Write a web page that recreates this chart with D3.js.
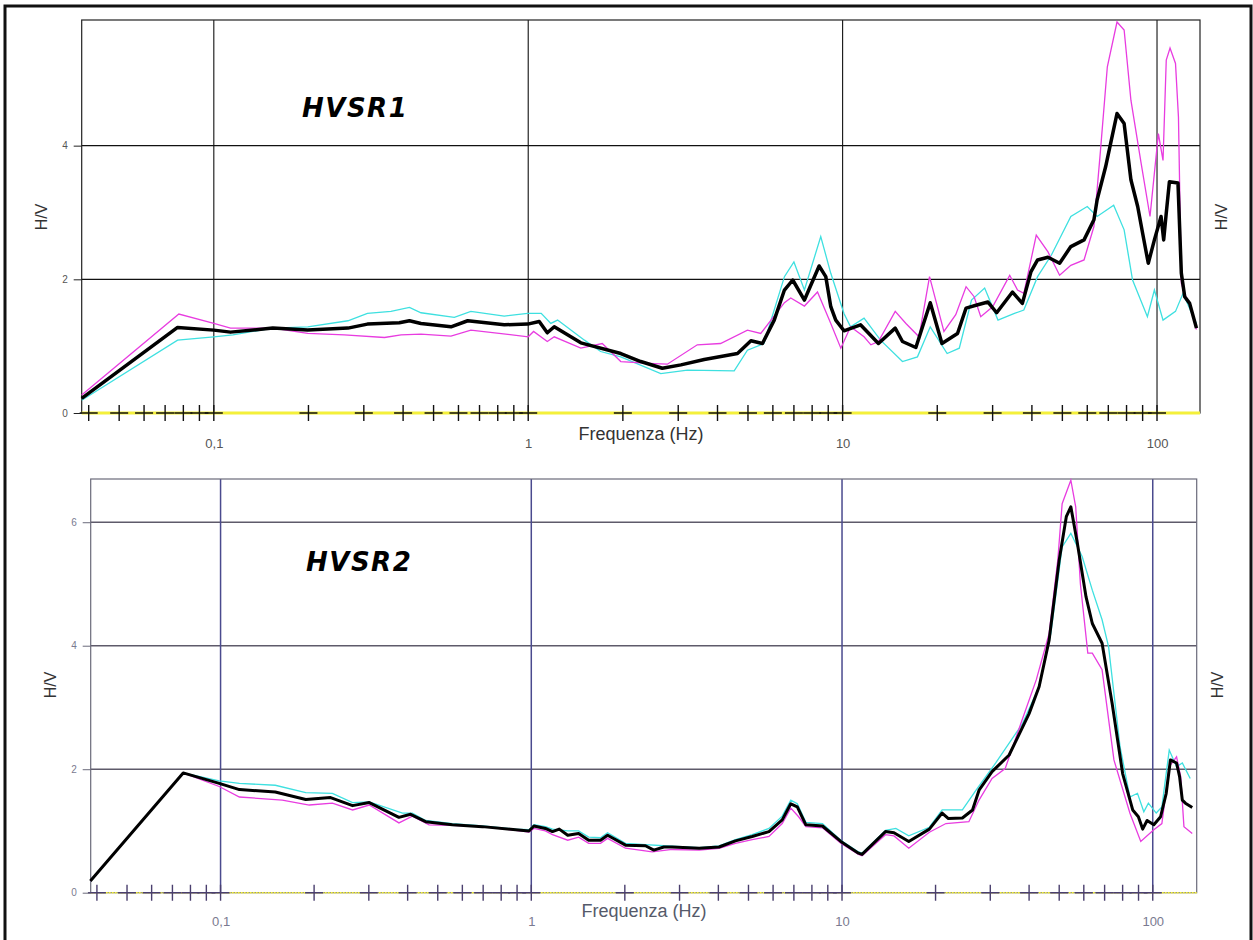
<!DOCTYPE html>
<html>
<head>
<meta charset="utf-8">
<script src="https://cdn.jsdelivr.net/npm/d3@7"></script>
<style>
  body { margin: 0; background: #fff; }
  text { font-family: "Liberation Sans", Arial, sans-serif; }
</style>
</head>
<body>
<script>
// HVSR curves: [frequency Hz, H/V]
const hvsr1Mean = [[0.038,0.22],[0.0767,1.28],[0.1,1.24],[0.113,1.21],[0.154,1.27],[0.199,1.24],[0.267,1.27],[0.308,1.33],[0.389,1.35],[0.419,1.38],[0.456,1.34],[0.568,1.29],[0.642,1.38],[0.839,1.32],[0.996,1.33],[1.084,1.37],[1.15,1.20],[1.21,1.29],[1.47,1.05],[1.97,0.89],[2.28,0.77],[2.67,0.67],[3.06,0.72],[3.63,0.80],[4.63,0.89],[5.11,1.08],[5.56,1.04],[6.06,1.39],[6.53,1.84],[6.94,1.99],[7.56,1.69],[8.42,2.20],[8.84,2.04],[9.17,1.59],[9.51,1.39],[10.1,1.23],[11.4,1.32],[13.0,1.04],[14.7,1.27],[15.5,1.07],[17.1,0.98],[19.0,1.65],[20.7,1.04],[23.2,1.19],[24.7,1.57],[26.9,1.62],[29.0,1.66],[30.9,1.50],[34.7,1.81],[37.3,1.64],[39.7,2.11],[41.7,2.29],[45.0,2.33],[49.0,2.24],[53.2,2.49],[58.6,2.59],[63.0,2.89],[64.5,3.19],[68.6,3.68],[74.6,4.48],[78.6,4.33],[82.6,3.49],[86.8,3.09],[90.0,2.69],[93.8,2.24],[98.1,2.59],[103,2.94],[105,2.59],[107,2.99],[109.5,3.46],[116.6,3.44],[119.5,2.09],[122.5,1.74],[127,1.64],[133.5,1.27]];
const hvsr1Magenta = [[0.038,0.27],[0.0774,1.48],[0.1,1.34],[0.113,1.27],[0.154,1.27],[0.199,1.19],[0.26,1.17],[0.349,1.13],[0.394,1.17],[0.456,1.18],[0.568,1.15],[0.657,1.24],[1.0,1.14],[1.04,1.22],[1.15,1.07],[1.21,1.14],[1.47,0.97],[1.72,1.04],[1.97,0.77],[2.52,0.74],[2.77,0.73],[3.45,1.02],[4.09,1.04],[4.98,1.24],[5.49,1.19],[6.53,1.65],[6.84,1.72],[7.56,1.60],[8.32,1.81],[9.17,1.34],[9.87,0.97],[10.6,1.29],[11.7,1.14],[12.3,1.02],[13.0,1.07],[14.7,1.52],[15.9,1.34],[17.5,1.14],[18.9,2.04],[21.0,1.22],[22.9,1.47],[24.7,1.89],[26.2,1.74],[27.5,1.44],[30.0,1.59],[34.0,2.06],[36.0,1.84],[37.7,1.79],[41.3,2.66],[45,2.41],[49,2.06],[53.2,2.21],[58.6,2.29],[63,2.79],[66.1,3.93],[69.5,5.18],[74.6,5.85],[78.6,5.73],[82.6,4.68],[89,3.74],[95,2.94],[101,4.18],[104.5,3.78],[107,5.28],[110,5.46],[114.5,5.23],[117,4.43],[119.5,1.94],[122.5,1.78],[127,1.62],[133.5,1.25]];
const hvsr1Cyan = [[0.038,0.19],[0.0767,1.09],[0.1,1.14],[0.115,1.17],[0.154,1.27],[0.199,1.29],[0.267,1.38],[0.308,1.49],[0.366,1.52],[0.419,1.58],[0.456,1.50],[0.582,1.43],[0.657,1.52],[0.839,1.45],[0.996,1.49],[1.10,1.49],[1.18,1.34],[1.24,1.39],[1.51,1.09],[1.70,0.92],[1.97,0.84],[2.64,0.59],[3.21,0.64],[4.52,0.63],[4.98,0.94],[5.62,1.04],[6.53,2.04],[7.0,2.26],[7.56,1.84],[8.52,2.64],[9.17,2.09],[10.1,1.49],[10.6,1.29],[11.7,1.42],[13.2,1.09],[15.5,0.77],[17.3,0.84],[19.0,1.29],[21.5,0.89],[23.5,0.97],[25.7,1.69],[28.3,1.87],[31.2,1.39],[35.2,1.49],[37.7,1.54],[41.7,2.04],[46.1,2.36],[53.2,2.94],[60,3.09],[64.5,2.94],[72.8,3.11],[78.6,2.74],[83.6,1.99],[93.2,1.44],[98.1,1.84],[104.5,1.39],[114.5,1.52],[121,1.79],[129,1.49],[133.5,1.34]];

const hvsr2Mean = [[0.0381,0.19],[0.0758,1.94],[0.099,1.77],[0.115,1.67],[0.15,1.63],[0.188,1.51],[0.226,1.54],[0.266,1.41],[0.301,1.46],[0.375,1.22],[0.409,1.27],[0.457,1.15],[0.557,1.10],[0.696,1.07],[0.891,1.02],[0.983,1.00],[1.02,1.08],[1.11,1.04],[1.17,0.99],[1.23,1.03],[1.31,0.93],[1.42,0.96],[1.53,0.85],[1.67,0.85],[1.76,0.93],[2.01,0.77],[2.33,0.76],[2.48,0.69],[2.67,0.74],[2.84,0.74],[3.47,0.72],[4.02,0.74],[4.54,0.84],[5.14,0.91],[5.82,0.99],[6.42,1.18],[6.84,1.44],[7.18,1.39],[7.65,1.10],[8.65,1.08],[9.91,0.83],[11.3,0.64],[11.6,0.62],[13.8,0.99],[14.7,0.97],[16.4,0.83],[19.1,1.03],[21.0,1.29],[22.0,1.20],[24.4,1.21],[26.3,1.34],[27.6,1.66],[30.4,1.96],[34.5,2.23],[40.0,2.90],[43.1,3.34],[46.4,4.09],[50.0,5.39],[52.7,6.09],[54.5,6.25],[57.2,5.66],[61.0,4.79],[63.9,4.36],[68.7,4.04],[74.0,3.07],[80.0,1.93],[86.2,1.34],[89.9,1.23],[92.8,1.03],[95.9,1.17],[100.8,1.10],[106,1.23],[110.5,1.61],[114,2.15],[119.3,2.10],[122,1.88],[124.5,1.50],[127.4,1.45],[134,1.38]];
const hvsr2Magenta = [[0.0381,0.19],[0.0758,1.94],[0.099,1.72],[0.115,1.55],[0.158,1.50],[0.193,1.42],[0.229,1.45],[0.266,1.34],[0.301,1.42],[0.375,1.13],[0.414,1.24],[0.469,1.10],[0.557,1.09],[0.696,1.07],[0.891,1.01],[0.983,0.98],[1.02,1.04],[1.11,1.00],[1.17,0.94],[1.31,0.85],[1.42,0.90],[1.53,0.80],[1.67,0.80],[1.76,0.88],[2.01,0.72],[2.45,0.66],[2.84,0.70],[3.47,0.69],[4.02,0.72],[4.54,0.80],[5.14,0.86],[5.82,0.91],[6.42,1.12],[6.84,1.37],[7.25,1.23],[7.65,1.07],[8.65,1.05],[9.91,0.80],[11.3,0.62],[11.6,0.60],[13.8,0.94],[14.7,0.92],[16.4,0.72],[19.1,0.98],[21.6,1.12],[25.6,1.15],[27.6,1.50],[30.4,1.85],[33.5,2.01],[38,2.80],[42.2,3.45],[46.4,4.20],[49.5,5.40],[51.1,6.30],[54.5,6.68],[56.5,6.25],[58.5,5.00],[61.8,3.88],[63.9,3.88],[68.7,3.61],[75.0,2.15],[84.4,1.29],[91.5,0.83],[100.8,1.02],[107,1.12],[113,2.04],[119.3,2.20],[123,1.88],[126,1.07],[134,0.96]];
const hvsr2Cyan = [[0.0381,0.19],[0.0758,1.94],[0.099,1.81],[0.115,1.77],[0.15,1.74],[0.188,1.62],[0.229,1.61],[0.266,1.46],[0.301,1.47],[0.385,1.29],[0.414,1.29],[0.457,1.17],[0.557,1.12],[0.696,1.08],[0.891,1.03],[0.983,1.02],[1.02,1.10],[1.11,1.07],[1.17,1.03],[1.31,1.00],[1.42,1.00],[1.53,0.90],[1.67,0.89],[1.76,0.97],[2.01,0.80],[2.33,0.78],[2.67,0.76],[3.47,0.73],[4.02,0.76],[4.54,0.86],[5.14,0.94],[5.82,1.04],[6.42,1.24],[6.84,1.50],[7.18,1.44],[7.65,1.14],[8.65,1.12],[9.91,0.85],[11.3,0.66],[11.6,0.64],[13.8,1.01],[14.9,1.04],[16.4,0.92],[19.1,1.06],[21,1.34],[24.4,1.34],[27,1.66],[31.2,2.10],[38.1,2.74],[43.1,3.34],[47,4.20],[51.1,5.60],[54.5,5.82],[59.3,5.44],[63.9,4.90],[68.7,4.42],[72.1,3.98],[78.5,2.36],[84.4,1.55],[89.3,1.61],[93.6,1.31],[96.8,1.45],[102.6,1.29],[107,1.39],[113,2.31],[119.3,2.04],[124.5,2.10],[132,1.85]];

const xMajor = [0.1, 1, 10, 100];
const hvsr1YTicks = [0, 2, 4];
const hvsr2YTicks = [0, 2, 4, 6];

const W = 1253, H = 940;

const svg = d3.select("body")
    .append("svg")
    .attr("width", W)
    .attr("height", H);

// outer frame
svg.append("rect")
    .attr("x", 5).attr("y", 6)
    .attr("width", 1246).attr("height", 1000)
    .attr("fill", "none")
    .attr("stroke", "#111")
    .attr("stroke-width", 3);

function panel(p) {
    const x = d3.scaleLog().domain(p.xDomain).range([p.left, p.right]);
    const y = d3.scaleLinear().domain([0, p.yMax]).range([p.bottom, p.top]);
    const g = svg.append("g");

    // grid
    g.selectAll(".hgrid")
        .data(p.yTicks.filter(d => d > 0))
        .enter().append("line")
        .attr("x1", p.left).attr("x2", p.right)
        .attr("y1", d => y(d)).attr("y2", d => y(d))
        .attr("stroke", p.hGrid).attr("stroke-width", p.gridW);
    g.selectAll(".vgrid")
        .data(xMajor)
        .enter().append("line")
        .attr("x1", d => x(d)).attr("x2", d => x(d))
        .attr("y1", p.top).attr("y2", p.bottom)
        .attr("stroke", p.vGrid).attr("stroke-width", p.gridW);

    // plot frame
    g.append("rect")
        .attr("x", p.left).attr("y", p.top)
        .attr("width", p.right - p.left).attr("height", p.bottom - p.top)
        .attr("fill", "none")
        .attr("stroke", p.frame).attr("stroke-width", 1.2);

    // yellow zero line and "+" markers
    g.append("line")
        .attr("x1", p.left).attr("x2", p.right)
        .attr("y1", y(0)).attr("y2", y(0))
        .attr("stroke", "#f4f03a").attr("stroke-width", p.zeroW)
        .attr("stroke-dasharray", p.zeroDash);

    const minor = [];
    for (let e = -2; e <= 2; e++)
        for (let k = 1; k <= 9; k++) {
            const f = k * Math.pow(10, e);
            if (f > p.xDomain[0] && f < p.xDomain[1]) minor.push(f);
        }
    g.selectAll(".cross")
        .data(minor)
        .enter().append("path")
        .attr("d", d => `M${x(d) - 9},${y(0)}h18M${x(d)},${y(0) - 8}v16`)
        .attr("stroke", p.cross).attr("stroke-width", 1.4)
        .attr("fill", "none");

    // y axis
    const yAxis = d3.axisLeft(y).tickValues(p.yTicks).tickSize(8).tickPadding(6)
        .tickFormat(d3.format("d"));
    const ya = g.append("g")
        .attr("transform", `translate(${p.left},0)`)
        .call(yAxis);
    ya.select(".domain").remove();
    ya.selectAll("line").attr("stroke", p.frame);
    ya.selectAll("text")
        .attr("fill", p.label)
        .style("font-size", "10px")
        .style("font-family", "Liberation Sans, Arial, sans-serif");

    // x axis labels
    const xAxis = d3.axisBottom(x).tickValues(xMajor).tickSize(0).tickPadding(p.xPad)
        .tickFormat(d => String(d).replace(".", ","));
    const xa = g.append("g")
        .attr("transform", `translate(0,${y(0)})`)
        .call(xAxis);
    xa.select(".domain").remove();
    xa.selectAll("text")
        .attr("fill", p.label)
        .style("font-size", "13px")
        .style("font-family", "Liberation Sans, Arial, sans-serif");

    // curves
    const line = d3.line().x(d => x(d[0])).y(d => y(d[1]));
    g.append("path").datum(p.cyan).attr("d", line)
        .attr("fill", "none").attr("stroke", "#3ee0e0").attr("stroke-width", 1.3);
    g.append("path").datum(p.magenta).attr("d", line)
        .attr("fill", "none").attr("stroke", "#e83ce0").attr("stroke-width", 1.3);
    g.append("path").datum(p.mean).attr("d", line)
        .attr("fill", "none").attr("stroke", "#000").attr("stroke-width", p.meanW)
        .attr("stroke-linejoin", "round");

    // texts
    g.append("text")
        .attr("x", p.titleX).attr("y", p.titleY)
        .style("font-family", "DejaVu Sans, Verdana, sans-serif")
        .style("font-weight", "bold").style("font-style", "italic")
        .style("font-size", "26px").style("letter-spacing", "1.5px")
        .attr("fill", "#000")
        .text(p.title);

    g.append("text")
        .attr("x", (p.xlabX)).attr("y", p.xlabY)
        .attr("text-anchor", "middle")
        .style("font-size", "18px")
        .attr("fill", p.xlabColor)
        .text("Frequenza (Hz)");

    [p.hvLeft, p.hvRight].forEach(cx => {
        g.append("text")
            .attr("transform", `translate(${cx},${p.hvY}) rotate(-90)`)
            .attr("text-anchor", "middle")
            .attr("dy", "0.35em")
            .style("font-size", "16px")
            .attr("fill", "#333")
            .text("H/V");
    });
}

panel({
    xDomain: [0.038, 137], left: 81.7, right: 1200,
    yMax: 5.88, top: 20, bottom: 413, yTicks: hvsr1YTicks,
    hGrid: "#111", vGrid: "#111", gridW: 1.1, frame: "#222",
    zeroW: 3, zeroDash: null, cross: "#111", label: "#555", xPad: 26,
    mean: hvsr1Mean, magenta: hvsr1Magenta, cyan: hvsr1Cyan, meanW: 3.5,
    title: "HVSR1", titleX: 302, titleY: 117,
    xlabX: 641, xlabY: 440, xlabColor: "#333",
    hvLeft: 41, hvRight: 1221, hvY: 217
});

panel({
    xDomain: [0.0382, 138.5], left: 90.7, right: 1196.7,
    yMax: 6.7, top: 479, bottom: 892.7, yTicks: hvsr2YTicks,
    hGrid: "#5e5a6a", vGrid: "#4a4a8e", gridW: 1.5, frame: "#6a6a7a",
    zeroW: 1.6, zeroDash: "2,1", cross: "#4a3f6e", label: "#7a7a90", xPad: 24,
    mean: hvsr2Mean, magenta: hvsr2Magenta, cyan: hvsr2Cyan, meanW: 3,
    title: "HVSR2", titleX: 306, titleY: 571,
    xlabX: 644, xlabY: 917, xlabColor: "#555a6a",
    hvLeft: 50, hvRight: 1217, hvY: 685
});
</script>
</body>
</html>
